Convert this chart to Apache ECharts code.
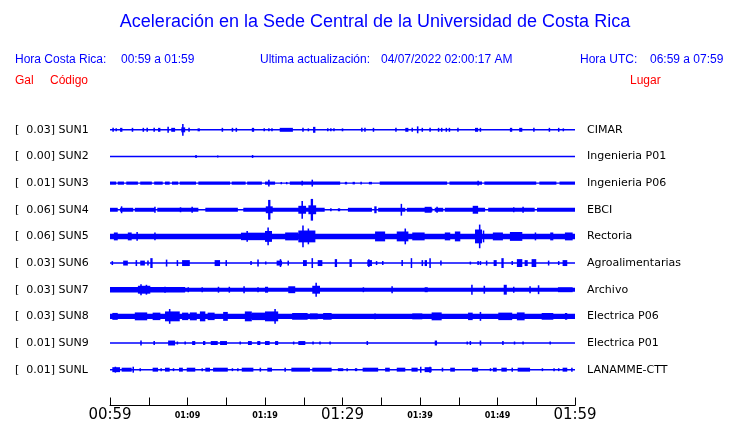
<!DOCTYPE html>
<html><head><meta charset="utf-8">
<script src="https://cdn.jsdelivr.net/npm/echarts@6/dist/echarts.min.js"></script>
<style>html,body{margin:0;padding:0;background:#fff}#c{width:740px;height:423px}</style>
</head><body><div id="c"></div>
<script>
// Station data
const codes  = ["SUN1","SUN2","SUN3","SUN4","SUN5","SUN6","SUN7","SUN8","SUN9","SUNL"];
const gal    = ["0.03","0.00","0.01","0.06","0.06","0.03","0.03","0.03","0.01","0.01"];
const places = ["CIMAR","Ingenieria P01","Ingenieria P06","EBCI","Rectoria","Agroalimentarias","Archivo","Electrica P06","Electrica P01","LANAMME-CTT"];

// Time axis (minutes after 00:59 local time)
const tickMinutes = [0,10,20,30,40,50,60];
const tickLabels  = ["00:59","01:09","01:19","01:29","01:39","01:49","01:59"];

// Resting trace half-amplitude for every station
const restAmp = [0.75,0.75,0.75,0.75,0.75,0.75,0.75,0.75,0.75,0.75];

// Signal envelopes: [start minute, end minute, half amplitude]
const sun1 = [[0.3,0.5,2],[0.7,0.9,1.5],[1.3,1.6,2],[2.8,3.0,2],[4.2,4.4,2],[4.7,4.9,2],[5.6,5.8,2],[6.2,6.5,2],
  [7.4,7.6,3],[7.9,8.4,2],[9.2,9.7,2.5],[9.3,9.5,6],[10.1,10.3,2],[11.3,11.6,1.5],[14.4,14.6,2],[15.7,15.9,2],
  [16.2,16.4,2],[18.3,18.6,2],[19.8,20.0,1.5],[20.4,20.6,1.5],[20.8,21.0,1.5],[21.9,23.6,2],[24.8,25.0,2],
  [25.5,25.6,1.5],[26.2,26.5,3],[28.0,28.1,1.5],[28.4,28.5,1.5],[28.8,28.9,1.5],[29.9,30.1,1.5],[32.4,32.5,2],
  [32.8,32.9,2],[33.9,34.0,2],[36.8,36.9,2],[38.1,38.5,2],[38.9,39.0,2],[39.6,39.8,3.5],[40.2,40.3,2],
  [41.2,41.4,2],[42.3,42.4,2],[42.7,42.8,2],[43.3,43.4,2],[43.7,43.8,2],[44.8,44.9,2],[47.1,47.5,2],
  [47.7,47.8,2],[51.6,51.9,2],[52.8,53.2,2],[54.6,54.7,2],[56.6,56.7,2],[57.8,57.9,2],[58.4,58.5,1.5]];
const sun2 = [[11.0,11.2,1.5],[13.8,13.9,1],[18.3,18.4,1.5]];
const sun3 = [[0,0.8,1.6],[1.0,1.8,1.6],[2.1,3.6,1.6],[3.9,5.4,1.6],[5.7,6.8,1.6],[7.1,7.7,1.6],[8.0,8.8,1.6],
  [9.0,11.1,1.6],[11.4,15.5,1.6],[15.7,17.5,1.6],[17.7,19.6,1.6],[20.0,21.3,1.6],[22.0,22.2,1.2],[22.7,22.9,1.2],
  [23.2,29.7,1.6],[30.3,30.6,1.3],[31.3,31.6,1.3],[32.3,32.5,1.3],[33.4,33.8,1.3],[34.8,43.5,1.6],[43.8,48.0,1.6],
  [48.3,55.0,1.6],[55.4,57.6,1.6],[58.0,60,1.6],
  [20.4,20.6,3.5],[24.7,24.9,2.5],[26.0,26.2,3.5],[47.4,47.6,2.5]];
const sun4 = [[0,1.0,2],[1.3,3.0,2],[3.2,5.8,2],[6.1,11.4,2],[12.3,16.5,2],[17.2,27.7,2],[28.4,28.6,1.5],[29.4,29.7,1.5],
  [30.7,33.8,2],[34.6,38.1,2],[38.3,41.6,2],[41.9,43.0,2],[43.2,48.4,2],[48.8,54.8,2],[55.1,60,2],
  [1.4,1.5,3.5],[5.7,5.9,3],[9.0,9.2,2.5],[10.5,10.7,3],[20.1,21.0,3.5],[20.4,20.7,10],[24.3,25.3,4],[24.7,24.9,9],
  [25.6,26.6,4.5],[25.9,26.2,11],[34.1,34.4,3.5],[37.5,37.6,6],[40.6,41.5,3],[42.1,42.3,3],[46.8,47.5,4],
  [52.0,52.1,2.5],[53.2,53.4,3]];
const sun5 = [[0,60,2.8],[0.5,1.0,4],[2.3,2.8,4],[3.4,3.6,4.5],[5.7,5.9,4],[16.9,20.0,3.8],[17.6,17.8,5.5],
  [20.0,20.9,5.5],[20.3,20.5,9],[22.6,24.3,4],[24.3,26.5,6],[24.8,25.0,11],[25.5,25.6,8],[34.2,35.5,5],
  [37.0,38.5,5],[38.0,38.2,8],[39.0,40.6,4],[43.2,43.9,4],[44.5,45.2,5],[47.1,48.0,7],[47.6,47.8,12],
  [48.1,48.2,6],[49.4,50.7,4],[51.6,53.2,4.5],[54.8,54.9,4],[56.8,57.2,4],[58.7,59.7,4]];
const sun6 = [[0.2,0.4,2],[1.7,2.3,2.5],[3.3,3.5,3],[3.9,4.5,2.5],[4.8,5.0,2.5],[5.2,5.5,5],[7.2,7.4,3.5],
  [8.6,8.7,3],[9.3,10.3,3],[13.5,14.2,3],[14.9,15.1,3],[18.1,18.3,2],[19.0,19.2,3.5],[20.0,20.1,1.5],
  [21.5,22.2,2.5],[21.9,22.0,4],[22.9,23.1,2.5],[24.9,25.4,3],[26.0,26.2,5],[26.8,27.4,3],[29.0,29.3,4],
  [30.9,31.2,4],[33.2,33.8,3],[33.3,33.4,4],[34.3,34.4,2],[35.1,35.2,2],[37.6,37.8,3],[38.8,38.9,5],
  [40.2,40.4,3],[40.6,40.9,3],[41.2,41.4,5],[42.6,42.8,2.5],[46.4,46.5,1.5],[47.4,47.5,2],[47.7,47.8,2],
  [48.5,48.6,2.5],[49.5,49.9,3],[50.5,50.8,5],[51.8,52.0,2],[52.5,53.2,4],[53.5,53.9,3],[54.4,55.0,4],
  [56.5,56.6,2.5],[57.8,57.9,2],[58.4,59.0,3]];
const sun7 = [[0,60,2],[0,9.7,2.7],[3.6,5.2,4],[3.9,4.1,5.5],[4.6,4.8,5],[7.0,7.2,3],[10.0,10.1,2.5],[11.8,11.9,2.5],
  [13.9,14.0,3],[15.3,15.4,3],[17.2,17.4,3.5],[19.0,19.2,2.5],[20.0,20.4,3],[23.0,23.9,3.5],[26.1,27.1,4],
  [26.5,26.7,7],[32.6,32.7,2.5],[36.3,36.5,3.5],[40.6,41.0,2.5],[46.6,46.8,5],[48.2,48.4,4],[50.8,51.2,5],
  [52.0,52.1,3],[54.1,54.3,3.5],[55.2,55.4,4.5],[57.8,59.7,2.5]];
const sun8 = [[0,60,2.6],[0.3,1.0,3.5],[3.2,4.8,4],[5.5,6.5,3.8],[7.1,9.0,5],[7.6,7.8,7.5],[9.3,10.1,3.8],
  [10.3,11.2,4],[11.6,12.3,5],[12.6,13.5,3.8],[14.6,15.2,4.5],[17.4,18.3,5],[18.3,20.0,3.8],[20.0,21.7,5],
  [21.2,21.4,7.5],[23.5,25.5,3.4],[25.8,26.8,3],[27.5,28.6,3.4],[34.1,34.3,3],[39.0,40.3,3],[41.5,42.8,4],
  [46.2,46.8,3.8],[47.7,47.9,4.5],[50.1,51.9,3.8],[52.5,53.5,4],[55.7,57.2,3.4],[58.7,59.0,3.4]];
const sun9 = [[3.9,4.1,2.5],[5.6,5.8,2],[7.5,8.4,2.5],[8.6,8.7,1.5],[9.6,9.8,1.5],[10.6,11.0,2],[12.0,12.3,2],
  [13.0,13.9,2],[14.2,15.1,2],[16.7,16.9,1.5],[17.8,18.3,2],[19.0,19.4,2],[20.0,20.6,2],[21.3,21.7,2],
  [23.6,23.7,1.5],[24.3,25.2,2],[26.1,26.3,1.5],[27.0,27.2,1.5],[28.3,28.5,1.5],[33.1,33.3,2],[41.9,42.2,2.5],
  [46.0,46.2,1.5],[46.4,46.5,2],[47.7,47.9,2.5],[50.6,50.8,2],[52.1,52.2,1.5],[53.2,53.4,1.5],[56.7,56.9,1.5]];
const sunl = [[0.3,1.3,2.5],[0.6,0.7,3],[1.5,2.8,2],[2.9,3.1,3],[3.8,4.0,1.5],[5.5,6.2,2],[6.5,6.7,1.5],[7.1,7.7,2],
  [8.1,8.2,1.5],[8.9,9.4,2],[9.9,11.0,2],[11.8,11.9,1.5],[12.3,12.9,2],[13.3,15.2,2],[15.7,15.8,1.5],
  [16.4,16.5,1.5],[17.0,18.5,2],[19.3,19.5,2],[20.3,20.9,2],[22.5,22.7,2],[23.4,25.8,2],[26.1,28.6,2],
  [29.4,30.1,1.5],[30.5,30.7,1.5],[31.6,31.9,1.5],[32.6,34.6,2],[35.5,36.1,2],[37.0,38.1,2],[38.9,39.7,2],
  [40.0,40.1,3],[40.6,41.5,2.5],[41.2,41.4,3],[42.8,43.0,2],[43.9,44.5,2],[46.7,47.5,2],[49.0,49.1,1.5],
  [49.4,49.9,2],[50.5,51.2,2],[51.8,52.0,2],[52.6,54.2,2],[55.7,55.8,1.5],[57.2,57.3,1.5],[57.8,57.9,1.5],
  [58.4,59.0,2],[59.5,59.7,2]];
const traces = [sun1,sun2,sun3,sun4,sun5,sun6,sun7,sun8,sun9,sunl];

// ---------- build ----------
const BLUE = '#0000ff';
const data = [];
traces.forEach((segs, i) => {
  data.push([tickMinutes[0], tickMinutes[tickMinutes.length-1], i, restAmp[i]]);
  segs.forEach(s => data.push([s[0], s[1], i, s[2]]));
});

function renderItem(params, api) {
  const s = api.value(0), e = api.value(1), idx = api.value(2), a = api.value(3);
  const p0 = api.coord([s, idx]);
  const p1 = api.coord([e, idx]);
  const unit = api.size([0, 1])[1] / 27;
  const h = Math.max(a * unit, 0.6);
  const w = Math.max(p1[0] - p0[0], 1.5);
  return { type: 'rect', shape: { x: p0[0], y: p0[1] - h, width: w, height: 2 * h }, style: { fill: BLUE } };
}

const chart = echarts.init(document.getElementById('c'), null, { renderer: 'canvas' });
const hdr = { fontFamily: 'Liberation Sans', fontSize: 12, fill: BLUE, verticalAlign: 'middle' };
const red = { fontFamily: 'Liberation Sans', fontSize: 12, fill: '#ff0000', verticalAlign: 'middle' };
function txt(x, y, text, st) { return { type: 'text', x: x, y: y, style: Object.assign({ text: text }, st) }; }

chart.setOption({
  animation: false,
  backgroundColor: '#fff',
  grid: { left: 110, right: 165, top: 116.5, bottom: 36.5, containLabel: false },
  xAxis: {
    type: 'value', min: 0, max: 60, interval: 5, offset: 22.5,
    axisLine: { show: true, lineStyle: { color: '#000', width: 1 } },
    axisTick: { show: true, inside: true, length: 8, lineStyle: { color: '#000', width: 1 } },
    splitLine: { show: false },
    axisLabel: {
      margin: 2, showMinLabel: true, showMaxLabel: true,
      formatter: function (v) {
        const k = tickMinutes.indexOf(v);
        if (k < 0) return '';
        return (v % 30 === 0 ? '{big|' : '{small|') + tickLabels[k] + '}';
      },
      rich: {
        big: { fontFamily: 'DejaVu Sans', fontSize: 15, color: '#000', lineHeight: 16 },
        small: { fontFamily: 'DejaVu Sans', fontSize: 8, fontWeight: 'bold', color: '#000', lineHeight: 16 }
      }
    }
  },
  yAxis: [
    { type: 'category', data: codes, inverse: true,
      axisLine: { show: false }, axisTick: { show: false }, splitLine: { show: false },
      axisLabel: { interval: 0, align: 'left', margin: 95, fontFamily: 'DejaVu Sans', fontSize: 11, color: '#000',
        formatter: function (v, i) { return '[  ' + gal[i] + '] ' + v; } } },
    { type: 'category', data: places, inverse: true, position: 'right',
      axisLine: { show: false }, axisTick: { show: false }, splitLine: { show: false },
      axisLabel: { interval: 0, align: 'left', margin: 12, fontFamily: 'DejaVu Sans', fontSize: 11, color: '#000' } }
  ],
  series: [{
    type: 'custom', renderItem: renderItem, data: data, xAxisIndex: 0, yAxisIndex: 0,
    encode: { x: [0, 1], y: 2 }, clip: false, silent: true
  }],
  graphic: [
    txt(375, 22, 'Aceleración en la Sede Central de la Universidad de Costa Rica',
      { fontFamily: 'Liberation Sans', fontSize: 18, fill: BLUE, align: 'center', verticalAlign: 'middle' }),
    txt(15, 60, 'Hora Costa Rica:', hdr),
    txt(121, 60, '00:59 a 01:59', hdr),
    txt(260, 60, 'Ultima actualización:', hdr),
    txt(381, 60, '04/07/2022 02:00:17 AM', hdr),
    txt(580, 60, 'Hora UTC:', hdr),
    txt(650, 60, '06:59 a 07:59', hdr),
    txt(15, 81, 'Gal', red),
    txt(50, 81, 'Código', red),
    txt(630, 81, 'Lugar', red)
  ]
});
</script></body></html>
